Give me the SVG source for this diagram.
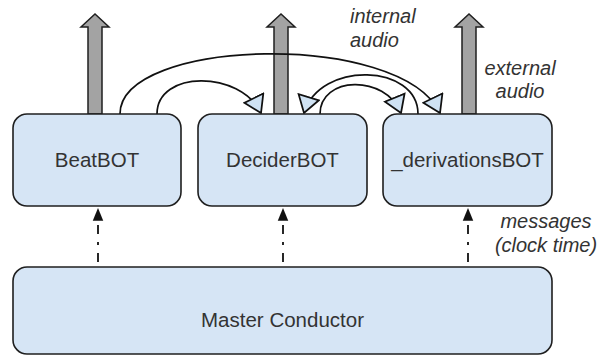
<svg xmlns="http://www.w3.org/2000/svg" width="603" height="358" viewBox="0 0 603 358">
<style>
.box{fill:#d6e5f5;stroke:#1f1f1f;stroke-width:1.6}
.lbl{font-family:"Liberation Sans",Arial,sans-serif;font-size:20.5px;fill:#333;text-anchor:middle}
.note{font-family:"Liberation Sans",Arial,sans-serif;font-size:20px;font-style:italic;fill:#333}
.out{fill:#a3a3a3;stroke:#1f1f1f;stroke-width:1.5;stroke-linejoin:miter}
.aud{fill:none;stroke:#111;stroke-width:1.7}
.msg{fill:none;stroke:#111;stroke-width:1.8;stroke-dasharray:9,8,3,8}
</style>
<defs>
<marker id="tri" markerUnits="userSpaceOnUse" markerWidth="20" markerHeight="24" viewBox="-1 -10 17 20" refX="14" refY="0" orient="auto">
<path d="M0,-9 L14,0 L0,9 Z" fill="#cfe2f3" stroke="#111" stroke-width="1.5" stroke-linejoin="miter"/>
</marker>
<marker id="blk" markerUnits="userSpaceOnUse" markerWidth="14" markerHeight="14" viewBox="0 -6 12 12" refX="11" refY="0" orient="auto">
<path d="M0,-4.5 L11,0 L0,4.5 Z" fill="#111"/>
</marker>
</defs>
<g id="out-arrows">
<path class="out" d="M88,114 L88,27 L81,27 L95,14 L109,27 L102,27 L102,114 Z"/>
<path class="out" d="M274,114 L274,27 L267,27 L281,14 L295,27 L288,27 L288,114 Z"/>
<path class="out" d="M462,114 L462,27 L455,27 L469,14 L483,27 L476,27 L476,114 Z"/>
</g>
<g id="connectors">
<path class="aud" d="M120,114 C120,38 400,30 440,113" marker-end="url(#tri)"/>
<path class="aud" d="M157,114 C157,70 240,70 261,113" marker-end="url(#tri)"/>
<path class="aud" d="M418,114 C418,64 320,60 304,113" marker-end="url(#tri)"/>
<path class="aud" d="M320,114 C320,76 385,74 401,113" marker-end="url(#tri)"/>
<path class="msg" d="M98,262 L98,208" marker-end="url(#blk)"/>
<path class="msg" d="M283,262 L283,208" marker-end="url(#blk)"/>
<path class="msg" d="M468,262 L468,208" marker-end="url(#blk)"/>
</g>
<g id="beatbot">
<rect class="box" x="13" y="114" width="168" height="92" rx="14"/>
<text class="lbl" x="97" y="167">BeatBOT</text>
</g>
<g id="deciderbot">
<rect class="box" x="198" y="114" width="169" height="92" rx="14"/>
<text class="lbl" x="282.5" y="167">DeciderBOT</text>
</g>
<g id="derivationsbot">
<rect class="box" x="383" y="114" width="169" height="92" rx="14"/>
<text class="lbl" x="467.5" y="167">_derivationsBOT</text>
</g>
<g id="master">
<rect class="box" x="13" y="267" width="539" height="87" rx="14"/>
<text class="lbl" x="282.5" y="327">Master Conductor</text>
</g>
<g id="labels">
<text class="note" x="350" y="23">internal</text>
<text class="note" x="350" y="47">audio</text>
<text class="note" x="520" y="75" text-anchor="middle">external</text>
<text class="note" x="520" y="98" text-anchor="middle">audio</text>
<text class="note" x="546" y="228" text-anchor="middle">messages</text>
<text class="note" x="546" y="252" text-anchor="middle">(clock time)</text>
</g>
</svg>
